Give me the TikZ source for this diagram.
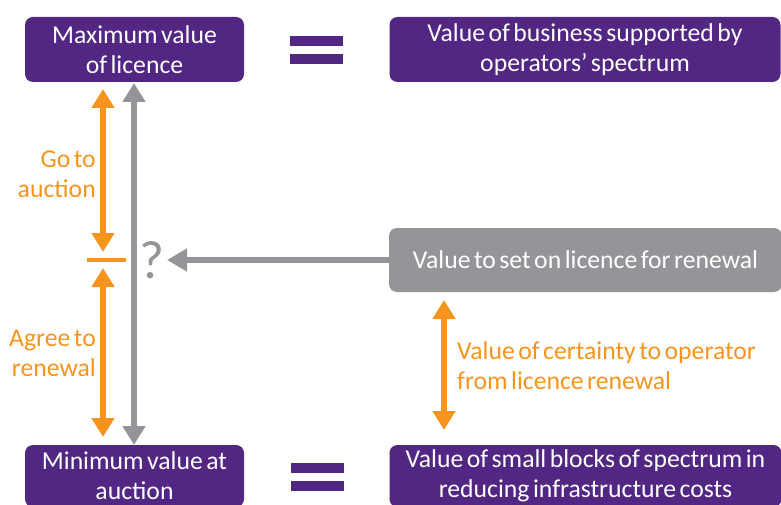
\documentclass[tikz,border=0pt]{standalone}
\usepackage{fontspec}
\setmainfont[WordSpace=0.6]{Carlito}
\usetikzlibrary{arrows.meta}
\definecolor{vpurple}{HTML}{522683}
\definecolor{vorange}{HTML}{F7941D}
\definecolor{vgray}{HTML}{939598}
\begin{document}
\begin{tikzpicture}[x=1pt,y=-1pt,
  pbox/.style={fill=vpurple, rounded corners=8pt, text=white, align=center, inner sep=0pt},
  gbox/.style={fill=vgray, rounded corners=8pt, text=white, align=center, inner sep=0pt},
  olabel/.style={text=vorange, inner sep=0pt},
  oarrow/.style={draw=vorange, line width=6pt},
  garrow/.style={draw=vgray, line width=6.5pt},
  eqbar/.style={fill=vpurple, inner sep=0pt, minimum width=53pt, minimum height=10pt},
  font=\fontsize{25.7}{30}\selectfont]
\useasboundingbox (0,0) rectangle (781,505);
% boxes
\node[pbox, minimum width=219pt, minimum height=65pt] (maxv) at (134.5,49.5) {Maximum value\\of licence};
\node[pbox, minimum width=391pt, minimum height=65pt] (busv) at (585,49.5) {Value of business supported by\\operators’ spectrum};
\node[pbox, minimum width=219pt, minimum height=62pt] (minv) at (134.5,476) {Minimum value at\\auction};
\node[pbox, minimum width=392pt, minimum height=62pt] (smallv) at (585.5,476) {Value of small blocks of spectrum in\\reducing infrastructure costs};
\node[gbox, minimum width=393pt, minimum height=64pt] (setv) at (585.5,260) {Value to set on licence for renewal};
% equals signs
\node[eqbar] (eq1a) at (316.5,41) {};
\node[eqbar] (eq1b) at (316.5,59) {};
\node[eqbar] (eq2a) at (317.5,468) {};
\node[eqbar] (eq2b) at (317.5,486) {};
% question mark
\node[text=vgray, font=\fontsize{54}{56}\selectfont, inner sep=0pt] (q) at (152.5,260) {?};
% tick
\coordinate (tickl) at (87,259.5);
\coordinate (tickr) at (126,259.5);
\draw[vorange, line width=4pt] (tickl) -- (tickr);
\coordinate (otopend) at (103,89);
\coordinate (otopstart) at (103,252);
\coordinate (obotstart) at (103,268);
\coordinate (obotend) at (103,437);
\draw[oarrow, {Triangle[length=19pt,width=22pt]}-{Triangle[length=19pt,width=22pt]}] (otopend) -- (otopstart);
\draw[oarrow, {Triangle[length=19pt,width=22pt]}-{Triangle[length=19pt,width=22pt]}] (obotstart) -- (obotend);
% gray vertical
\coordinate (gtop) at (134,83);
\coordinate (gbot) at (134,445);
\draw[garrow, {Triangle[length=19pt,width=22pt]}-{Triangle[length=19pt,width=22pt]}] (gtop) -- (gbot);
% gray horizontal
\coordinate (qtip) at (167,260);
\draw[garrow, -{Triangle[length=20pt,width=22pt]}] (setv.west) -- (qtip);
% right orange
\coordinate (rtop) at (444,300);
\coordinate (rbot) at (444,430);
\draw[oarrow, {Triangle[length=19pt,width=22pt]}-{Triangle[length=19pt,width=22pt]}] (rtop) -- (rbot);
% labels
\node[olabel, align=right, anchor=east] (goto) at (96,174) {Go to\\auction};
\node[olabel, align=right, anchor=east] (agree) at (96,353) {Agree to\\renewal};
\node[olabel, align=left, anchor=west] (cert) at (457,366) {Value of certainty to operator\\from licence renewal};
\end{tikzpicture}
\end{document}
